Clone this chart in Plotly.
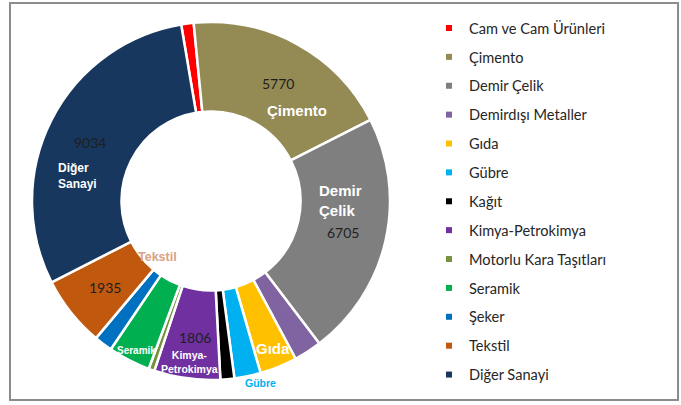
import plotly.graph_objects as go

# Sector energy consumption shares (clockwise from the top)
categories = [
    "Cam ve Cam Ürünleri", "Çimento", "Demir Çelik", "Demirdışı Metaller",
    "Gıda", "Gübre", "Kağıt", "Kimya-Petrokimya", "Motorlu Kara Taşıtları",
    "Seramik", "Şeker", "Tekstil", "Diğer Sanayi",
]
values = [340, 5770, 6705, 760, 1020, 720, 380, 1806, 160, 1150, 500, 1935, 9034]
colors = [
    "#FF0000", "#948A54", "#7F7F7F", "#8064A2", "#FFC000", "#00B0F0", "#000000",
    "#7030A0", "#76923C", "#00B050", "#0070C0", "#C0580E", "#17375E",
]

W, H = 681, 405
CX, CY, R = 211, 201, 179  # donut centre and outer radius in pixels

fig = go.Figure()
fig.add_trace(go.Pie(
    labels=categories, values=values, sort=False, direction="clockwise",
    rotation=-9.6, hole=0.5, textinfo="none", hoverinfo="label+value",
    marker=dict(colors=colors, line=dict(color="white", width=2.5)),
    domain=dict(x=[(CX - R) / W, (CX + R) / W],
                y=[(H - CY - R) / H, (H - CY + R) / H]),
    showlegend=False,
))

# legend entries with small square keys, one group each for even spacing
for name, col in zip(categories, colors):
    fig.add_trace(go.Scatter(
        x=[None], y=[None], mode="markers", name=name, legendgroup=name,
        marker=dict(symbol="square", size=6, color=col),
    ))

def px(x, y):
    return x / W, 1 - y / H

val = dict(zip(categories, values))
bold = "Liberation Sans"

annotations = []
def label(text, x, y, size, color, family=bold, align="center"):
    ax, ay = px(x, y)
    annotations.append(dict(
        text=text, x=ax, y=ay, xref="paper", yref="paper", showarrow=False,
        font=dict(family=family, size=size, color=color), align=align,
        xanchor="center", yanchor="middle",
    ))

# values inside the large slices
label(str(val["Çimento"]), 278, 83, 14, "#1F1F1F", "Lato")
label(str(val["Demir Çelik"]), 343, 232, 14, "#1F1F1F", "Lato")
label(str(val["Diğer Sanayi"]), 90, 142, 14, "#1F1F1F", "Lato")
label(str(val["Tekstil"]), 105, 287, 14, "#1F1F1F", "Lato")
label(str(val["Kimya-Petrokimya"]), 195, 337, 14, "#1F1F1F", "Lato")

# category names
label("<b>Çimento</b>", 297, 110, 15, "white")
label("<b>Demir<br>Çelik</b>", 340, 201, 15, "white", align="left")
label("<b>Diğer<br>Sanayi</b>", 77, 176, 12, "white", align="left")
label("<b>Tekstil</b>", 157, 257, 12.5, "#D9A283")
label("<b>Seramik</b>", 136, 350, 10, "white")
label("<b>Kimya-<br>Petrokimya</b>", 189, 362, 10.5, "white")
label("<b>Gıda</b>", 273, 348, 15, "white")
label("<b>Gübre</b>", 260, 383, 10.5, "#00B0F0")

fig.update_layout(
    width=W, height=H,
    margin=dict(l=0, r=0, t=0, b=0),
    paper_bgcolor="white", plot_bgcolor="white",
    xaxis=dict(visible=False), yaxis=dict(visible=False),
    annotations=annotations,
    legend=dict(
        x=(469 - 40) / W, y=1 - 12 / H, xanchor="left", yanchor="top",
        font=dict(family="Lato", size=14.6, color="#262626"),
        tracegroupgap=6.9, traceorder="grouped", bgcolor="rgba(0,0,0,0)",
    ),
    shapes=[dict(
        type="rect", xref="paper", yref="paper",
        x0=10 / W, x1=678 / W, y0=1 - 400 / H, y1=1 - 3 / H,
        line=dict(color="#8C8C8C", width=2), fillcolor="rgba(0,0,0,0)",
        layer="below",
    )],
)

fig.write_html("out.html")
